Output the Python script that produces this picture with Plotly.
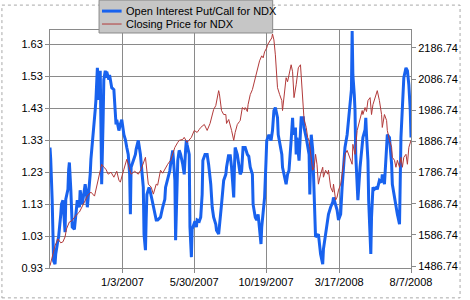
import plotly.graph_objects as go

# x positions are trading-day indices (0 = first session shown, 503 = 8/7/2008)
tick_idx = [101, 201, 301, 403, 503]
tick_labels = ["1/3/2007", "5/30/2007", "10/19/2007", "3/17/2008", "8/7/2008"]

left_ticks = [0.93, 1.03, 1.13, 1.23, 1.33, 1.43, 1.53, 1.63]
right_ticks = [1486.74, 1586.74, 1686.74, 1786.74, 1886.74, 1986.74, 2086.74, 2186.74]

pc_idx = [0, 1, 3, 4, 5, 7, 8, 11, 12, 15, 16, 18, 19, 21, 22, 23, 25, 26, 27, 29, 30, 31, 34, 36, 37, 38,
          41, 42, 45, 46, 49, 51, 52, 53, 55, 56, 57, 59, 62, 63, 64, 66, 67, 68, 70, 71, 72, 74, 75, 77, 78, 79,
          82, 83, 86, 89, 92, 93, 96, 98, 100, 103, 105, 107, 109, 111, 112, 113, 116, 119, 120, 123, 126, 127,
          130, 131, 133, 134, 135, 138, 139, 142, 144, 146, 148, 150, 153, 154, 157, 160, 161, 164, 167, 168,
          171, 172, 174, 175, 176, 178, 180, 182, 185, 187, 189, 190, 191, 194, 195, 197, 198, 200, 202, 204,
          205, 208, 210, 212, 213, 216, 219, 221, 224, 226, 228, 231, 232, 235, 238, 239, 242, 245, 246, 249,
          250, 251, 253, 256, 257, 258, 261, 262, 265, 267, 269, 272, 275, 277, 279, 282, 283, 286, 288, 290,
          292, 294, 295, 297, 299, 301, 302, 305, 308, 310, 312, 314, 317, 318, 321, 323, 324, 327, 329, 331,
          333, 336, 338, 339, 342, 343, 344, 347, 350, 353, 354, 357, 359, 361, 362, 364, 366, 368, 370, 373,
          374, 377, 380, 381, 384, 387, 388, 391, 394, 395, 398, 400, 402, 405, 407, 409, 411, 414, 416, 418,
          420, 421, 422, 424, 425, 426, 428, 429, 432, 435, 436, 439, 440, 441, 443, 444, 446, 447, 448, 450,
          452, 455, 456, 459, 462, 463, 466, 467, 469, 470, 473, 476, 477, 480, 482, 484, 487, 488, 489, 491,
          493, 496, 498, 500, 502, 503]
pc_val = [1.307, 1.270, 1.145, 0.989, 0.952, 0.942, 0.974, 1.017, 1.027, 1.098, 1.129, 1.142, 1.114, 1.042,
          1.145, 1.160, 1.176, 1.238, 1.260, 1.176, 1.129, 1.058, 1.051, 1.098, 1.129, 1.142,
          1.120, 1.173, 1.129, 1.145, 1.192, 1.160, 1.120, 1.145, 1.192, 1.223, 1.270, 1.316, 1.379, 1.425,
          1.456, 1.556, 1.519, 1.456, 1.547, 1.425, 1.192, 1.394, 1.519, 1.547, 1.525, 1.544,
          1.519, 1.534, 1.494, 1.488, 1.379, 1.394, 1.360, 1.379, 1.394, 1.347, 1.332, 1.307, 1.285, 1.223,
          1.098, 1.245, 1.263, 1.285, 1.301, 1.329, 1.285, 1.254,
          1.182, 1.036, 0.986, 1.083, 1.160, 1.182, 1.176, 1.145, 1.120, 1.098, 1.080, 1.080, 1.089, 1.089,
          1.120, 1.145, 1.182, 1.207, 1.235, 1.254,
          1.298, 1.270, 1.204, 1.017, 1.114, 1.266, 1.298, 1.285, 1.254, 1.223, 1.301, 1.329, 1.316, 1.285,
          1.058, 0.964, 1.051, 1.067, 1.076, 1.058,
          1.080, 1.076, 1.089, 1.160, 1.266, 1.285, 1.285, 1.254, 1.192, 1.120, 1.089, 1.067, 1.048, 1.036,
          1.098, 1.129, 1.204, 1.223, 1.245, 1.285,
          1.270, 1.285, 1.245, 1.151, 1.245, 1.307, 1.285, 1.270, 1.223, 1.232, 1.307, 1.307, 1.285, 1.279,
          1.245, 1.223, 1.129, 1.089, 1.080, 1.098,
          1.058, 1.005, 1.058, 1.120, 1.151, 1.266, 1.329, 1.347, 1.329, 1.360, 1.422, 1.432, 1.400, 1.347,
          1.307, 1.285, 1.245, 1.213, 1.192, 1.223,
          1.235, 1.329, 1.400, 1.347, 1.369, 1.285, 1.338, 1.266, 1.400, 1.400, 1.369, 1.338, 1.316, 1.285,
          1.160, 1.347, 1.301, 1.142, 1.027, 1.033,
          1.036, 0.974, 0.942, 0.989, 1.036, 1.067, 1.098, 1.120, 1.136, 1.151, 1.129, 1.111, 1.080, 1.098,
          1.182, 1.245, 1.307, 1.347, 1.400, 1.432,
          1.488, 1.671, 1.534, 1.472, 1.422, 1.285, 1.160, 1.142, 1.245, 1.316, 1.338, 1.363, 1.400, 1.347,
          1.266, 1.142, 0.995, 0.974, 1.089, 1.182,
          1.176, 1.182, 1.176, 1.204, 1.198, 1.223, 1.192, 1.238, 1.307, 1.347, 1.338, 1.254, 1.192, 1.151,
          1.120, 1.098, 1.067, 1.176, 1.338, 1.432,
          1.525, 1.556, 1.547, 1.503, 1.422, 1.338]

px_idx = [0, 4, 7, 11, 15, 18, 21, 23, 27, 30, 34, 38, 41, 45, 48, 52, 55, 57, 62, 64, 68, 72, 75, 78, 81,
          85, 89, 93, 96, 98, 103, 107, 109, 113, 118, 123, 127, 133, 137, 141, 144, 148, 150, 154, 157, 161,
          164, 168, 171, 174, 178, 180, 185, 187, 191, 194, 197, 201, 205, 208, 210, 215, 219, 223, 226, 228,
          231, 235, 236, 239, 242, 245, 246, 249, 253, 256, 258, 261, 264, 265, 268, 271, 272, 275, 276, 279,
          282, 286, 288, 291, 292, 295, 297, 299, 302, 303, 306, 309, 310, 312, 314, 316, 317, 320, 323, 324,
          327, 329, 331, 333, 336, 338, 340, 343, 346, 349, 350, 353, 354, 357, 359, 361, 364, 366, 368, 370,
          372, 374, 377, 380, 381, 384, 387, 388, 391, 394, 395, 398, 400, 402, 405, 407, 409, 411, 414, 416,
          418, 421, 422, 425, 428, 429, 432, 435, 436, 439, 441, 443, 446, 448, 450, 452, 455, 456, 459, 462,
          463, 466, 469, 470, 473, 476, 477, 480, 482, 484, 487, 489, 491, 493, 496, 498, 500, 503]
px_val = [1487.7, 1526.0, 1551.5, 1573.9, 1561.1, 1564.3, 1580.3, 1605.8, 1628.1, 1631.3, 1644.1, 1653.7,
          1660.1, 1676.0, 1692.0, 1711.1, 1717.5, 1723.9, 1711.1, 1733.5, 1775.0, 1813.3, 1803.7, 1797.3,
          1781.4, 1787.7, 1771.8, 1790.9, 1762.2, 1755.8, 1797.3, 1829.2, 1813.3, 1781.4, 1790.9, 1781.4,
          1797.3, 1835.6, 1749.4, 1739.9, 1717.5, 1749.4, 1746.2, 1794.1, 1784.6, 1803.7,
          1813.3, 1826.0, 1845.2, 1867.5, 1883.5, 1889.9, 1893.1, 1899.5, 1883.5, 1893.1, 1899.5, 1921.8,
          1915.4, 1925.0, 1931.4, 1941.0, 1921.8, 1944.2, 1972.9, 1988.8,
          2001.6, 2049.5, 2039.9, 1985.6, 1972.9, 1972.9, 1944.2, 1956.9, 1921.8, 1889.9, 1915.4, 1941.0,
          1950.5, 1953.7, 1995.2, 1988.8, 1995.2, 1982.4, 2004.8, 2036.7,
          2052.7, 2091.0, 2113.3, 2132.5, 2145.2, 2161.2, 2154.8, 2174.0, 2186.7, 2196.3, 2209.1, 2218.7,
          2231.4, 2212.3, 2164.4, 2091.0, 2059.0, 2036.7, 2017.6, 1985.6,
          2059.0, 2091.0, 2078.2, 2100.6, 2132.5, 2110.1, 2027.1, 2068.6, 2122.9, 2132.5, 2091.0, 2004.8,
          1956.9, 1931.4, 1899.5, 1889.9, 1829.2, 1794.1, 1803.7, 1845.2,
          1813.3, 1749.4, 1781.4, 1803.7, 1771.8, 1794.1, 1781.4, 1794.1, 1739.9, 1723.9, 1749.4, 1698.4,
          1707.9, 1730.3, 1749.4, 1781.4, 1813.3, 1845.2, 1857.9, 1845.2,
          1826.0, 1813.3, 1877.1, 1845.2, 1921.8, 1931.4, 1963.3, 1985.6, 1972.9, 1995.2, 1982.4, 2017.6,
          2027.1, 1972.9, 2004.8, 2017.6, 2036.7, 2049.5, 2017.6, 1972.9,
          1931.4, 1972.9, 1953.7, 1921.8, 1889.9, 1867.5, 1835.6, 1826.0, 1803.7, 1826.0, 1803.7, 1835.6,
          1803.7, 1835.6, 1845.2, 1813.3, 1867.5, 1889.9]

series_names = ["Open Interest Put/Call for NDX", "Closing Price for NDX"]
blue = "#1862ee"
red = "#b23a3a"
font_family = "Liberation Sans, Arial, sans-serif"

fig = go.Figure()
fig.add_trace(go.Scatter(x=pc_idx, y=pc_val, mode="lines", name=series_names[0],
                         line=dict(color=blue, width=3), yaxis="y"))
fig.add_trace(go.Scatter(x=px_idx, y=px_val, mode="lines", name=series_names[1],
                         line=dict(color=red, width=1), yaxis="y2"))

W, H = 470, 300
L, R, T, B = 50, 52, 30, 31
pw, ph = W - L - R, H - T - B


def pxx(x):
    return (x - L) / pw


def pxy(y):
    return (H - B - y) / ph


shapes = [
    # outer dotted frame
    dict(type="rect", xref="paper", yref="paper", x0=pxx(1), x1=pxx(468), y0=pxy(299), y1=pxy(5),
         line=dict(color="#a8a8a8", width=1, dash="dot"), layer="below"),
    # legend box
    dict(type="rect", xref="paper", yref="paper", x0=pxx(100), x1=pxx(277), y0=pxy(33), y1=pxy(0),
         fillcolor="#c6c6c6", line=dict(color="#8a8a8a", width=1), layer="above"),
    dict(type="line", xref="paper", yref="paper", x0=pxx(103), x1=pxx(123), y0=pxy(11), y1=pxy(11),
         line=dict(color=blue, width=3), layer="above"),
    dict(type="line", xref="paper", yref="paper", x0=pxx(103), x1=pxx(123), y0=pxy(24), y1=pxy(24),
         line=dict(color=red, width=1), layer="above"),
]
annotations = [
    dict(xref="paper", yref="paper", x=pxx(125), y=pxy(11), text=series_names[0], showarrow=False,
         xanchor="left", yanchor="middle", font=dict(family=font_family, size=11, color="#000")),
    dict(xref="paper", yref="paper", x=pxx(125), y=pxy(24), text=series_names[1], showarrow=False,
         xanchor="left", yanchor="middle", font=dict(family=font_family, size=11, color="#000")),
]

grid = "#8a8a8a"
fig.update_layout(
    width=W, height=H,
    margin=dict(l=L, r=R, t=T, b=B, pad=0),
    paper_bgcolor="white", plot_bgcolor="white",
    showlegend=False,
    font=dict(family=font_family, size=11, color="#000"),
    shapes=shapes, annotations=annotations,
    xaxis=dict(range=[0, 503], tickvals=tick_idx, ticktext=tick_labels, showgrid=True, gridcolor=grid,
               gridwidth=1, showline=True, linecolor=grid, linewidth=1, mirror=True, ticks="outside",
               ticklen=4, tickcolor=grid, zeroline=False, tickangle=0),
    yaxis=dict(range=[0.93, 1.6745], tickvals=left_ticks, ticktext=[f"{v:.2f}" for v in left_ticks],
               showgrid=True, gridcolor=grid, gridwidth=1, showline=True, linecolor=grid, linewidth=1,
               mirror=True, ticks="outside", ticklen=4, tickcolor=grid, zeroline=False),
    yaxis2=dict(range=[1480.4, 2244.1], overlaying="y", side="right", tickvals=right_ticks,
                ticktext=[f"{v:.2f}" for v in right_ticks], showgrid=False, showline=False,
                ticks="outside", ticklen=4, tickcolor=grid, zeroline=False),
)

fig.write_html("out.html")
